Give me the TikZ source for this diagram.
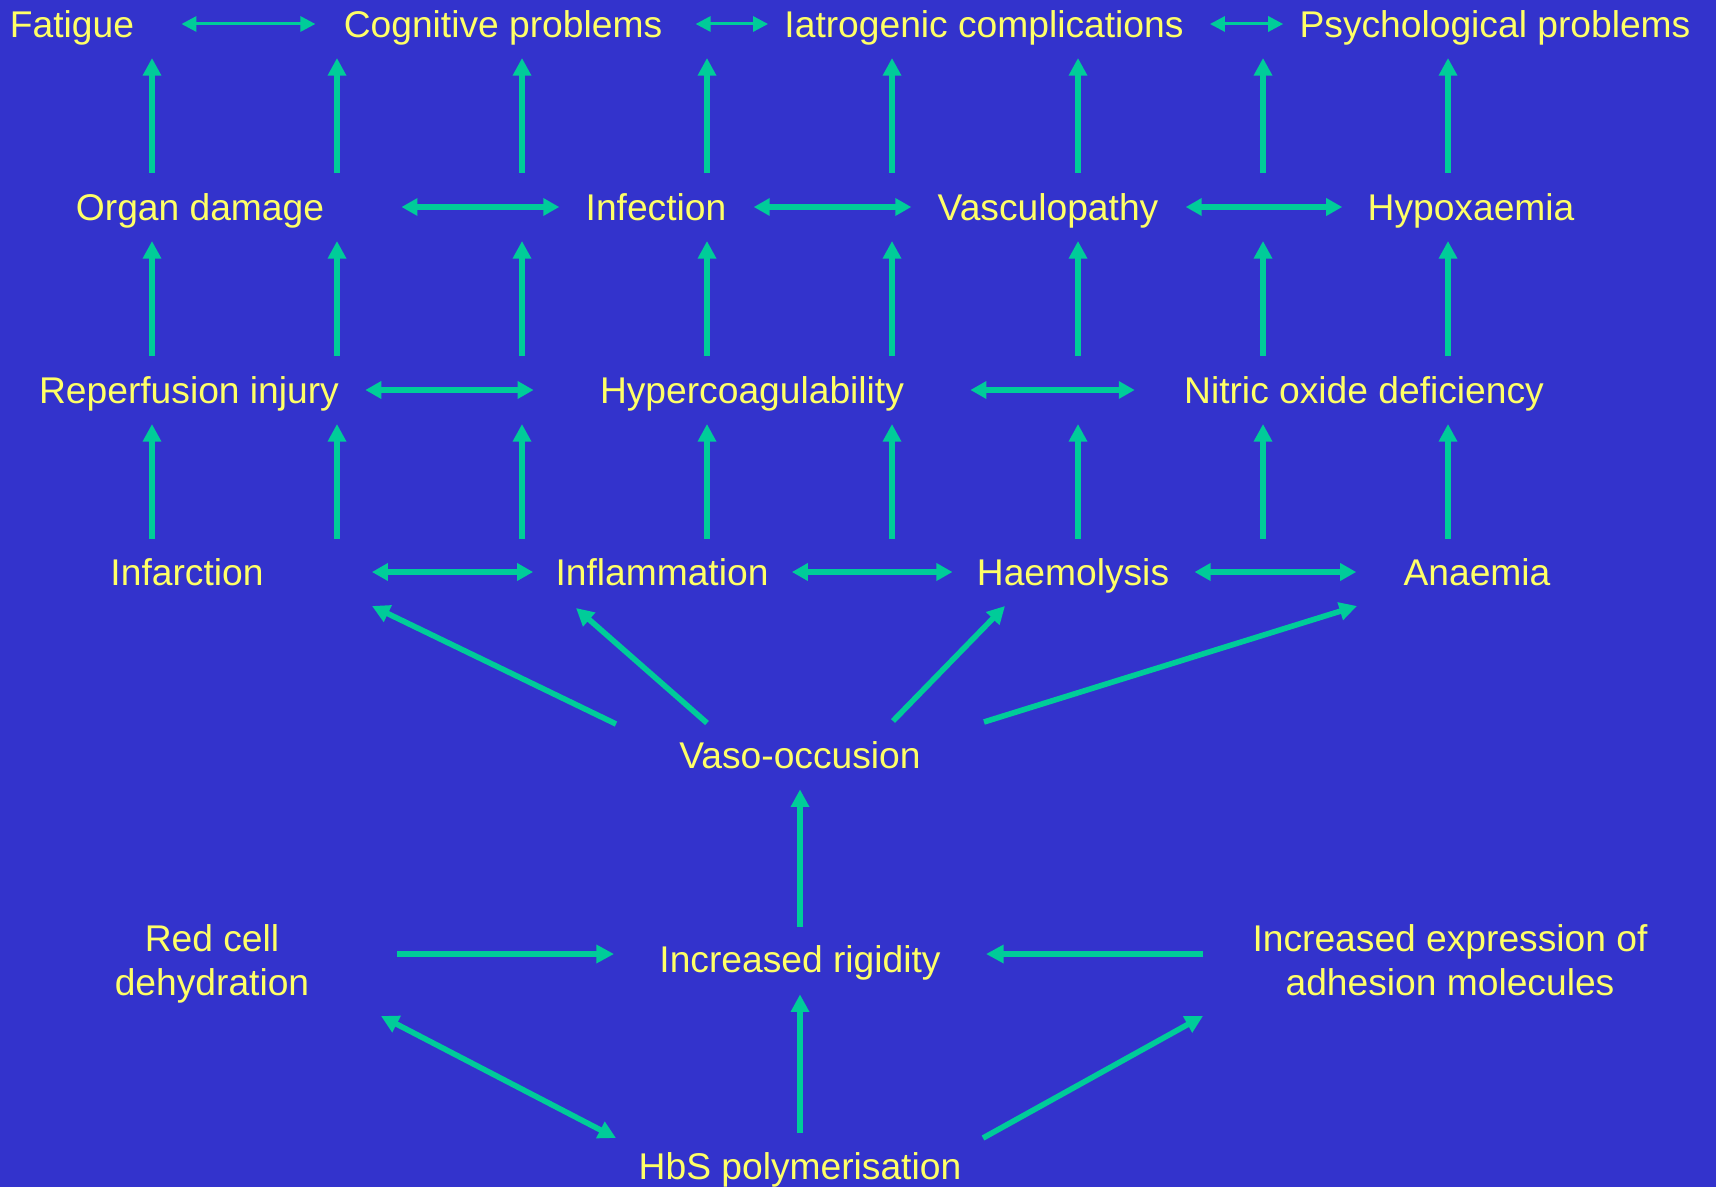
\documentclass[tikz,border=0pt]{standalone}
\usepackage{fontspec}
\setmainfont{Liberation Sans}
\usepackage{xcolor}
\usetikzlibrary{arrows.meta}
\definecolor{bgblue}{HTML}{3333CC}
\definecolor{arrgreen}{HTML}{00CC99}
\definecolor{txtyellow}{HTML}{FFFF66}
\begin{document}
\begin{tikzpicture}[x=0.5pt,y=-0.5pt,
  lbl/.style={text=txtyellow,font=\fontsize{18.6pt}{22pt}\selectfont,inner sep=0pt,text height=13.35pt,text depth=0pt},
  lbltwo/.style={text=txtyellow,font=\fontsize{18.6pt}{22pt}\selectfont,inner sep=0pt,align=center,anchor=base},
  arr/.style={draw=arrgreen,line width=2.8pt,-{Triangle[length=8.8pt,width=8.8pt]}},
  dbl/.style={draw=arrgreen,line width=2.6pt,{Triangle[length=8pt,width=8.4pt]}-{Triangle[length=8pt,width=8.4pt]}},
  thindbl/.style={draw=arrgreen,line width=1.5pt,{Triangle[length=7.5pt,width=7.5pt]}-{Triangle[length=7.5pt,width=7.5pt]}}]
\fill[bgblue](0,0)rectangle(1716,1187);
% top row
\node[lbl](fatigue)at(72,24){Fatigue};
\node[lbl](cogn)at(503,24){Cognitive problems};
\node[lbl](iatro)at(984,24){Iatrogenic complications};
\node[lbl](psych)at(1495,24){Psychological problems};
% second row
\node[lbl](organ)at(200,207){Organ damage};
\node[lbl](infect)at(656,207){Infection};
\node[lbl](vasc)at(1048,207){Vasculopathy};
\node[lbl](hypox)at(1471,207){Hypoxaemia};
% third row
\node[lbl](reperf)at(189,390){Reperfusion injury};
\node[lbl](hyperco)at(752,390){Hypercoagulability};
\node[lbl](nitric)at(1364,390){Nitric oxide deficiency};
% fourth row
\node[lbl](infarct)at(187,572){Infarction};
\node[lbl](inflam)at(662,572){Inflammation};
\node[lbl](haemo)at(1073,572){Haemolysis};
\node[lbl](anaem)at(1477,572){Anaemia};
% bottom part
\node[lbl](vaso)at(800,755){Vaso-occusion};
\node[lbl](rigid)at(800,959){Increased rigidity};
\node[lbltwo](redcell)at(212,995){Red cell\\dehydration};
\node[lbltwo](adhes)at(1450,995){Increased expression of\\adhesion molecules};
\node[lbl](hbs)at(800,1166){HbS polymerisation};
% horizontal links
\draw[thindbl,shorten <=23.5pt,shorten >=14pt](fatigue)--(cogn);
\draw[thindbl,shorten <=16.5pt,shorten >=8pt](cogn)--(iatro);
\draw[thindbl,shorten <=13pt,shorten >=8pt](iatro)--(psych);
\draw[dbl,shorten <=38.5pt,shorten >=13pt](organ)--(infect);
\draw[dbl,shorten <=13.5pt,shorten >=13pt](infect)--(vasc);
\draw[dbl,shorten <=13.5pt,shorten >=12.5pt](vasc)--(hypox);
\draw[dbl,shorten <=13pt,shorten >=33pt](reperf)--(hyperco);
\draw[dbl,shorten <=33pt,shorten >=24.5pt](hyperco)--(nitric);
\draw[dbl,shorten <=54pt,shorten >=11pt](infarct)--(inflam);
\draw[dbl,shorten <=11.5pt,shorten >=12pt](inflam)--(haemo);
\draw[dbl,shorten <=12.5pt,shorten >=23.5pt](haemo)--(anaem);
% columns of upward arrows
\foreach \x [count=\i] in {152,337,522,707,892,1078,1263,1448}
  \coordinate(col\i)at(\x,0);
\foreach \t/\h [count=\j] in {173/58,356/241,539/424}{
  \coordinate(tail\j)at(0,\t);
  \coordinate(tip\j)at(0,\h);
}
\foreach \i in {1,...,8}
  \foreach \j in {1,2,3}
    \draw[arr](col\i|-tail\j)--(col\i|-tip\j);
% vaso-occlusion fan
\coordinate(v1)at(616,724); \coordinate(e1)at(372,606);
\coordinate(v2)at(707,723); \coordinate(e2)at(576,608);
\coordinate(v3)at(893,721); \coordinate(e3)at(1005,606);
\coordinate(v4)at(984,722); \coordinate(e4)at(1357,606);
\foreach \k in {1,...,4}
  \draw[arr](v\k)--(e\k);
\draw[arr,shorten <=9.3pt,shorten >=10.3pt](rigid)--(vaso);
\draw[arr,shorten <=9.8pt,shorten >=10.8pt](hbs)--(rigid);
% side causes
\coordinate(rcE)at(397,954);
\coordinate(adW)at(1203,954);
\draw[arr,shorten >=22.5pt](rcE)--(rcE-|rigid.west);
\draw[arr,shorten >=22.5pt](adW)--(adW-|rigid.east);
\coordinate(hbL)at(616,1138); \coordinate(rcS)at(381,1016);
\coordinate(hbR)at(983,1138); \coordinate(adS)at(1203,1016);
\draw[arr,{Triangle[length=8.8pt,width=8.8pt]}-{Triangle[length=8.8pt,width=8.8pt]}](hbL)--(rcS);
\draw[arr](hbR)--(adS);
\end{tikzpicture}
\end{document}
